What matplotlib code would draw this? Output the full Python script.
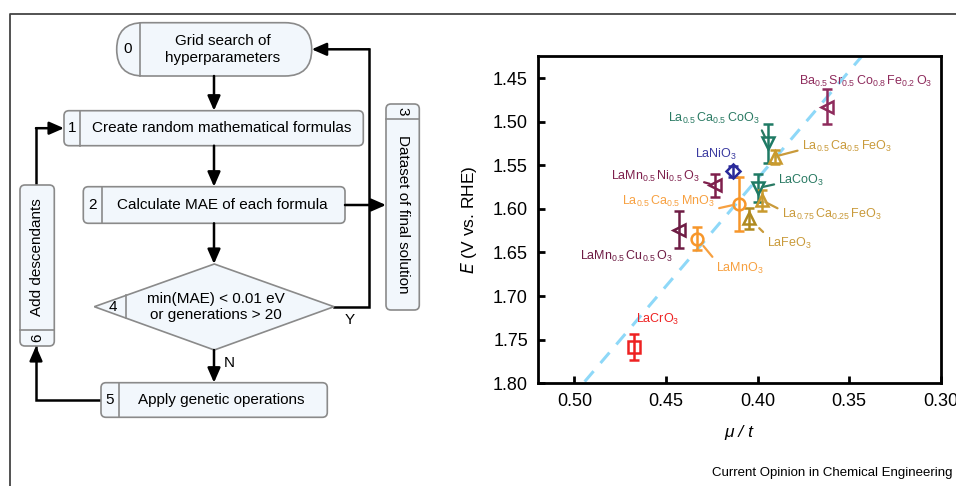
import matplotlib
matplotlib.use("Agg")
import numpy as np
import matplotlib.pyplot as plt
from matplotlib.patches import FancyBboxPatch, Polygon

plt.rcParams["font.family"] = ["Liberation Sans", "DejaVu Sans"]
plt.rcParams["mathtext.default"] = "regular"

# ----------------------------
# Data (right panel)
# ----------------------------
materials = [
    r"Ba$_{0.5}\,$Sr$_{0.5}\,$Co$_{0.8}\,$Fe$_{0.2}\,$O$_3$",
    r"La$_{0.5}\,$Ca$_{0.5}\,$CoO$_3$",
    r"La$_{0.5}\,$Ca$_{0.5}\,$FeO$_3$",
    r"LaNiO$_3$",
    r"LaMn$_{0.5}\,$Ni$_{0.5}\,$O$_3$",
    r"LaCoO$_3$",
    r"La$_{0.75}\,$Ca$_{0.25}\,$FeO$_3$",
    r"La$_{0.5}\,$Ca$_{0.5}\,$MnO$_3$",
    r"LaFeO$_3$",
    r"LaMn$_{0.5}\,$Cu$_{0.5}\,$O$_3$",
    r"LaMnO$_3$",
    r"LaCrO$_3$",
]
mu_t = [0.3623, 0.3942, 0.3905, 0.4136, 0.4232, 0.3996, 0.3978, 0.4100, 0.4045, 0.4427, 0.4329, 0.4673]
E_onset = [1.483, 1.525, 1.540, 1.557, 1.573, 1.576, 1.590, 1.594, 1.611, 1.624, 1.634, 1.758]
E_err = [0.020, 0.022, 0.008, 0.006, 0.013, 0.016, 0.012, 0.031, 0.012, 0.021, 0.013, 0.015]

# linear trend (dashed line)
fit_slope = 2.466
fit_intercept = 0.579

x_ticks = [0.50, 0.45, 0.40, 0.35, 0.30]
y_ticks = [1.45, 1.50, 1.55, 1.60, 1.65, 1.70, 1.75, 1.80]

# ----------------------------
# Styles
# ----------------------------
markers = ["<", "v", "^", "D", "<", "v", "^", "o", "^", "<", "o", "s"]
colors = ["#8E2B5C", "#1E7A64", "#C99A2E", "#2A2A9A", "#7E1F4C", "#1E7A64",
          "#C99A2E", "#F7962A", "#B08A20", "#6E1C44", "#F7962A", "#EE2222"]
label_colors = ["#8E2B5C", "#2A7A63", "#C99A3A", "#3A3AA0", "#7E1F4C", "#2A7A63",
                "#C99A3A", "#F7A040", "#C99A3A", "#6E1C44", "#F7A040", "#EE2222"]
# label anchor (data coords), horizontal alignment, leader line start (relpos) or None
label_pos = [(0.3047, 1.4579), (0.3987, 1.5007), (0.3759, 1.5325), (0.4342, 1.5420),
             (0.4314, 1.5669), (0.3887, 1.5714), (0.3869, 1.6108), (0.4232, 1.5955),
             (0.3949, 1.6433), (0.4463, 1.6586), (0.4229, 1.6720), (0.4665, 1.7312)]
label_ha = ["right", "right", "left", "left", "right", "left", "left", "right",
            "left", "right", "left", "left"]
leader = [None, (1, 0), (0, 0.3), None, (1, 0.2), (0, 0.3), (0, 0.8), (1, 0),
          (0, 1), None, (0, 1), None]
leader_shrink = [0, 5, 3, 0, 4, 3, 3, 5, 10, 0, 7, 0]

# ----------------------------
# Figure
# ----------------------------
fig = plt.figure(figsize=(9.56, 4.86), dpi=100)

# left panel in pixel coordinates
axf = fig.add_axes([0, 0, 1, 1])
axf.set_xlim(0, 956)
axf.set_ylim(486, 0)
axf.axis("off")

# outer frame (cropped)
axf.plot([10, 10, 956], [486, 14, 14], color="#444444", lw=1.3)

BOX_FC = "#F2F7FC"
BOX_EC = "#8A8A8A"
FS = 11


def box(x0, y0, x1, y1, r=5):
    axf.add_patch(FancyBboxPatch((x0, y0), x1 - x0, y1 - y0,
                                 boxstyle=f"round,pad=0,rounding_size={r}",
                                 fc=BOX_FC, ec=BOX_EC, lw=1.2, zorder=2))


def line(xs, ys):
    axf.plot(xs, ys, color="black", lw=1.8, zorder=1, solid_joinstyle="miter")


def arrow(p0, p1):
    axf.annotate("", xy=p1, xytext=p0,
                 arrowprops=dict(arrowstyle="-|>,head_length=0.8,head_width=0.35",
                                 color="black", lw=1.8, shrinkA=0, shrinkB=0,
                                 mutation_scale=11), zorder=3)


# box 0
box(116.7, 22.7, 311.7, 76, r=26.6)
axf.plot([140, 140], [22.7, 76], color=BOX_EC, lw=1.2, zorder=3)
axf.text(128, 49.3, "0", ha="center", va="center", fontsize=FS, zorder=4)
axf.text(223, 49.3, "Grid search of\nhyperparameters", ha="center", va="center",
         fontsize=FS, linespacing=1.25, zorder=4)

# box 1
box(64, 110.7, 363.3, 145.7)
axf.plot([80, 80], [110.7, 145.7], color=BOX_EC, lw=1.2, zorder=3)
axf.text(72, 128.2, "1", ha="center", va="center", fontsize=FS, zorder=4)
axf.text(221.5, 128.2, "Create random mathematical formulas", ha="center", va="center",
         fontsize=FS, zorder=4)

# box 2
box(83.3, 186.7, 345, 223.3)
axf.plot([101.7, 101.7], [186.7, 223.3], color=BOX_EC, lw=1.2, zorder=3)
axf.text(92.5, 205, "2", ha="center", va="center", fontsize=FS, zorder=4)
axf.text(222, 205, "Calculate MAE of each formula", ha="center", va="center",
         fontsize=FS, zorder=4)

# box 3 (vertical)
box(386, 104, 419.3, 310)
axf.plot([386, 419.3], [119.3, 119.3], color=BOX_EC, lw=1.2, zorder=3)
axf.text(402.7, 111.7, "3", ha="center", va="center", rotation=-90, fontsize=FS, zorder=4)
axf.text(402.7, 214.7, "Dataset of final solution", ha="center", va="center",
         rotation=-90, fontsize=FS, zorder=4)

# diamond 4
axf.add_patch(Polygon([(94.3, 306.7), (214.3, 264), (334, 306.7), (214.3, 350)],
                      closed=True, fc=BOX_FC, ec=BOX_EC, lw=1.2, zorder=2))
axf.plot([126, 126], [295.4, 318], color=BOX_EC, lw=1.2, zorder=3)
axf.text(113, 306.7, "4", ha="center", va="center", fontsize=FS, zorder=4)
axf.text(216, 307, "min(MAE) < 0.01 eV\nor generations > 20", ha="center", va="center",
         fontsize=FS, linespacing=1.15, zorder=4)

# box 5
box(101, 382.7, 327.3, 417.3)
axf.plot([119.3, 119.3], [382.7, 417.3], color=BOX_EC, lw=1.2, zorder=3)
axf.text(110, 400, "5", ha="center", va="center", fontsize=FS, zorder=4)
axf.text(221, 400, "Apply genetic operations", ha="center", va="center",
         fontsize=FS, zorder=4)

# box 6 (vertical)
box(20, 185, 54.3, 346)
axf.plot([20, 54.3], [330, 330], color=BOX_EC, lw=1.2, zorder=3)
axf.text(37, 338, "6", ha="center", va="center", rotation=90, fontsize=FS, zorder=4)
axf.text(37, 257.5, "Add descendants", ha="center", va="center", rotation=90,
         fontsize=FS, zorder=4)

# connectors
arrow((214, 76), (214, 110.7))
arrow((214, 145.7), (214, 186.7))
arrow((345, 205), (386, 205))
arrow((214, 223.3), (214, 264))
line([334, 369, 369], [306.7, 306.7, 49.3])
arrow((369, 49.3), (311.7, 49.3))
axf.text(350, 320, "Y", ha="center", va="center", fontsize=FS)
arrow((214, 350), (214, 382.7))
axf.text(229, 363, "N", ha="center", va="center", fontsize=FS)
line([101, 36, 36], [400, 400, 346])
arrow((36, 360), (36, 346))
line([36, 36], [185, 128.2])
arrow((36, 128.2), (64, 128.2))

axf.text(953, 473, "Current Opinion in Chemical Engineering", ha="right", va="center",
         fontsize=9.5)

# ----------------------------
# Right panel
# ----------------------------
ax = fig.add_axes([537.7 / 956, 1 - 383.3 / 486, 403 / 956, 327.3 / 486])

xs = np.linspace(0.30, 0.52, 50)
ax.plot(xs, fit_slope * xs + fit_intercept, color="#8ED8F8", lw=2.2,
        dashes=(4.5, 3.5), zorder=1)

for i in range(len(materials)):
    ms = 7 if markers[i] == "D" else 8.5
    ax.errorbar(mu_t[i], E_onset[i], yerr=E_err[i], fmt=markers[i], color=colors[i],
                mfc="none", mec=colors[i], mew=1.8, ms=ms, elinewidth=1.8,
                capsize=3.5, capthick=1.8, zorder=3)
    if leader[i] is None:
        ax.text(label_pos[i][0], label_pos[i][1], materials[i], color=label_colors[i],
                fontsize=9, ha=label_ha[i], va="baseline", zorder=4)
    else:
        ax.annotate(materials[i], xy=(mu_t[i], E_onset[i]), xytext=label_pos[i],
                    color=label_colors[i], fontsize=9, ha=label_ha[i], va="baseline",
                    arrowprops=dict(arrowstyle="-", color=label_colors[i], lw=1.6,
                                    relpos=leader[i], shrinkA=1, shrinkB=leader_shrink[i]),
                    zorder=4)

ax.set_xlim(0.52, 0.30)
ax.set_ylim(1.80, 1.4247)
ax.set_xticks(x_ticks)
ax.set_yticks(y_ticks)
ax.set_xticklabels([f"{v:.2f}" for v in x_ticks])
ax.set_yticklabels([f"{v:.2f}" for v in y_ticks])
ax.tick_params(direction="in", length=5, width=2, labelsize=13, pad=7)
for s in ax.spines.values():
    s.set_linewidth(2)
ax.set_xlabel("μ / t", style="italic", fontsize=12.5, labelpad=11)
ax.set_ylabel("$\\it{E}$ (V vs. RHE)", fontsize=12.5, labelpad=10)

fig.savefig("out.png", dpi=100)
